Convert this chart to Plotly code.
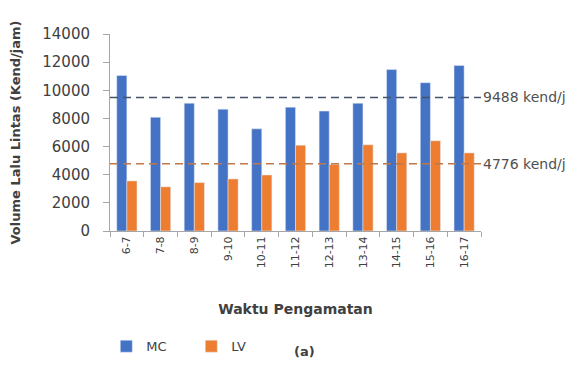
import plotly.graph_objects as go

categories = ["6-7", "7-8", "8-9", "9-10", "10-11", "11-12", "12-13", "13-14", "14-15", "15-16", "16-17"]
mc_values = [11050, 8080, 9080, 8660, 7260, 8800, 8520, 9080, 11470, 10540, 11770]
lv_values = [3560, 3140, 3440, 3700, 3980, 6100, 4730, 6130, 5550, 6410, 5550]
mc_avg = 9488
lv_avg = 4776
y_ticks = [0, 2000, 4000, 6000, 8000, 10000, 12000, 14000]

BLUE = "#4472C4"
ORANGE = "#ED7D31"
TXT = "#404040"
FONT = "DejaVu Sans"

fig = go.Figure()
fig.add_bar(x=categories, y=mc_values, name="MC", marker_color=BLUE)
fig.add_bar(x=categories, y=lv_values, name="LV", marker_color=ORANGE)

fig.add_shape(type="line", xref="paper", yref="y", x0=0, x1=1, y0=mc_avg, y1=mc_avg,
              line=dict(color="#44546A", width=1.5, dash="8px,5px"))
fig.add_shape(type="line", xref="paper", yref="y", x0=0, x1=1, y0=lv_avg, y1=lv_avg,
              line=dict(color="#C0784A", width=1.5, dash="8px,5px"))

fig.add_annotation(xref="paper", yref="y", x=1.0, y=mc_avg, text=f"{mc_avg} kend/j",
                   showarrow=False, xanchor="left", yanchor="middle",
                   font=dict(size=14, color="#505050", family=FONT))
fig.add_annotation(xref="paper", yref="y", x=1.0, y=lv_avg, text=f"{lv_avg} kend/j",
                   showarrow=False, xanchor="left", yanchor="middle",
                   font=dict(size=14, color="#505050", family=FONT))
fig.add_annotation(xref="paper", yref="paper", x=0.525, y=-0.61, text="<b>(a)</b>",
                   showarrow=False, xanchor="center", yanchor="middle",
                   font=dict(size=13, color=TXT, family=FONT))

fig.update_layout(
    width=585, height=374,
    margin=dict(l=110, r=104, t=34, b=141),
    paper_bgcolor="white", plot_bgcolor="white",
    barmode="group", bargap=0.4, bargroupgap=0,
    font=dict(family=FONT, size=11, color=TXT),
    showlegend=True,
    legend=dict(orientation="h", x=-0.01, y=-0.585, xanchor="left", yanchor="middle",
                font=dict(size=13, color=TXT, family=FONT), traceorder="normal",
                itemwidth=30, entrywidth=40),
    xaxis=dict(
        type="category", tickangle=-90, showline=True, linecolor="#A6A6A6",
        ticks="outside", ticklen=5, tickcolor="#A6A6A6", tickson="boundaries",
        tickfont=dict(size=11, color=TXT, family=FONT),
        title=dict(text="<b>Waktu Pengamatan</b>", font=dict(size=14, color=TXT, family=FONT), standoff=36),
    ),
    yaxis=dict(
        range=[0, 14000], tickvals=y_ticks, tickformat="d", showgrid=False, showline=True,
        linecolor="#A6A6A6", ticks="outside", ticklen=6, tickcolor="#A6A6A6", zeroline=False,
        ticklabelstandoff=10,
        tickfont=dict(size=15, color=TXT, family=FONT),
        title=dict(text="<b>Volume Lalu Lintas (Kend/jam)</b>", font=dict(size=13, color=TXT, family=FONT), standoff=18),
    ),
)

fig.write_html("out.html", config={"displayModeBar": False},
               post_script="document.body.style.margin='0';document.body.style.overflow='hidden';")
